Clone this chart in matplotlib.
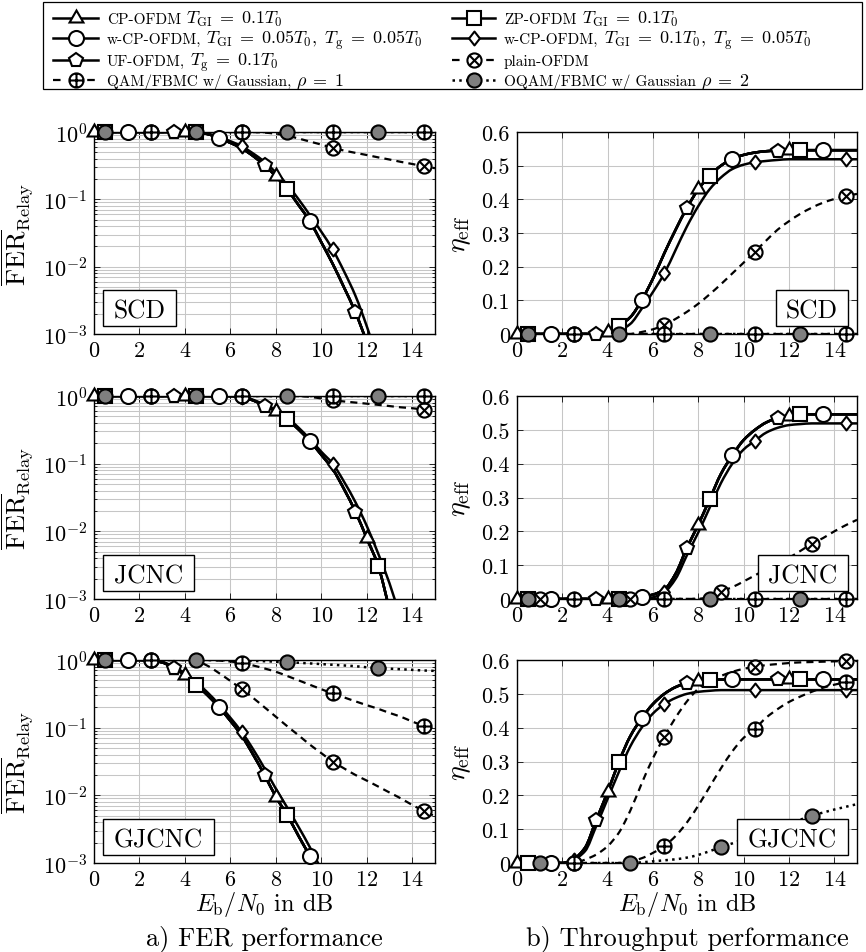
import numpy as np
import matplotlib
matplotlib.use("Agg")
import matplotlib.pyplot as plt
from matplotlib.path import Path
from matplotlib.patches import PathPatch, Rectangle
from matplotlib.lines import Line2D
from matplotlib.ticker import LogLocator, NullFormatter

plt.rcParams.update({
    "font.family": "serif",
    "font.serif": ["cmr10"],
    "mathtext.fontset": "cm",
    "axes.unicode_minus": False,
    "axes.formatter.use_mathtext": True,
})

nan = float("nan")

# ---------------------------------------------------------------- data
# Eb/N0 sample grid in dB
EBN0_DB = [0.0, 0.5, 1.0, 1.5, 2.0, 2.5, 3.0, 3.5, 4.0, 4.5,
           5.0, 5.5, 6.0, 6.5, 7.0, 7.5, 8.0, 8.5, 9.0, 9.5,
           10.0, 10.5, 11.0, 11.5, 12.0, 12.5, 13.0, 13.5, 14.0, 14.5, 15.0]

# "GUARD" = CP-OFDM, ZP-OFDM, w-CP-OFDM (T_GI=0.05T0) and UF-OFDM (coinciding curves)
# ---- SCD, relay frame error rate
FER_SCD_GUARD = [1, 1, 1, 1, 1, 1, 1, 1, 1, 0.99,
                 0.93, 0.81, 0.69, 0.57, 0.44, 0.32, 0.22, 0.14, 0.082, 0.047,
                 0.023, 0.011, 0.0049, 0.0021, 0.00075, 0.00022, nan, nan, nan, nan, nan]
FER_SCD_WCP01 = [1, 1, 1, 1, 1, 1, 1, 1, 1, 0.995,
                 0.94, 0.84, 0.73, 0.61, 0.48, 0.36, 0.25, 0.165, 0.1, 0.058,
                 0.033, 0.018, 0.0085, 0.0037, 0.0013, 0.0004, nan, nan, nan, nan, nan]
FER_SCD_PLAIN = [1, 1, 1, 1, 1, 1, 1, 1, 1, 1,
                 1, 1, 1, 1, 1, 0.98, 0.94, 0.88, 0.8, 0.72,
                 0.65, 0.58, 0.53, 0.49, 0.455, 0.42, 0.39, 0.36, 0.335, 0.31, 0.29]
FER_SCD_QAM = [1, 1, 1, 1, 1, 1, 1, 1, 1, 1,
               1, 1, 1, 1, 1, 1, 1, 1, 1, 1,
               1, 1, 1, 1, 1, 1, 1, 1, 1, 1, 1]
FER_SCD_OQAM = [1, 1, 1, 1, 1, 1, 1, 1, 1, 1,
                1, 1, 1, 1, 1, 1, 1, 1, 1, 1,
                1, 1, 1, 1, 1, 1, 1, 1, 1, 1, 1]

# ---- SCD, effective throughput
ETA_SCD_GUARD = [0, 0, 0, 0, 0, 0, 0, 0, 0.005, 0.025,
                 0.05, 0.1, 0.165, 0.24, 0.31, 0.375, 0.43, 0.47, 0.5, 0.52,
                 0.532, 0.539, 0.543, 0.545, 0.546, 0.546, 0.546, 0.546, 0.546, 0.546, 0.546]
ETA_SCD_WCP01 = [0, 0, 0, 0, 0, 0, 0, 0, 0, 0.01,
                 0.03, 0.075, 0.125, 0.18, 0.25, 0.32, 0.38, 0.43, 0.465, 0.49,
                 0.503, 0.51, 0.514, 0.517, 0.519, 0.519, 0.519, 0.519, 0.519, 0.519, 0.519]
ETA_SCD_PLAIN = [0, 0, 0, 0, 0, 0, 0, 0, 0, 0,
                 0, 0.006, 0.014, 0.027, 0.045, 0.066, 0.09, 0.118, 0.148, 0.18,
                 0.212, 0.245, 0.278, 0.31, 0.335, 0.357, 0.375, 0.39, 0.401, 0.41, 0.416]
ETA_SCD_QAM = [0, 0, 0, 0, 0, 0, 0, 0, 0, 0,
               0, 0, 0, 0, 0, 0, 0, 0, 0, 0,
               0, 0, 0, 0, 0, 0, 0, 0, 0, 0, 0]
ETA_SCD_OQAM = [0, 0, 0, 0, 0, 0, 0, 0, 0, 0,
                0, 0, 0, 0, 0, 0, 0, 0, 0, 0,
                0, 0, 0, 0, 0, 0, 0, 0, 0, 0, 0]

# ---- JCNC, relay frame error rate
FER_JCNC_GUARD = [1, 1, 1, 1, 1, 1, 1, 1, 1, 1,
                  1, 1, 1, 0.96, 0.86, 0.72, 0.6, 0.45, 0.32, 0.214,
                  0.135, 0.083, 0.042, 0.0195, 0.0079, 0.0031, 0.0007, nan, nan, nan, nan]
FER_JCNC_WCP01 = [1, 1, 1, 1, 1, 1, 1, 1, 1, 1,
                  1, 1, 1, 0.97, 0.88, 0.74, 0.62, 0.48, 0.34, 0.23,
                  0.15, 0.1, 0.054, 0.027, 0.012, 0.0047, 0.0017, 0.0005, nan, nan, nan]
FER_JCNC_PLAIN = [1, 1, 1, 1, 1, 1, 1, 1, 1, 1,
                  1, 1, 1, 1, 1, 1, 1, 1, 1, 0.97,
                  0.92, 0.87, 0.83, 0.8, 0.77, 0.74, 0.71, 0.68, 0.66, 0.63, 0.61]
FER_JCNC_QAM = [1, 1, 1, 1, 1, 1, 1, 1, 1, 1,
                1, 1, 1, 1, 1, 1, 1, 1, 1, 1,
                1, 1, 1, 1, 1, 1, 1, 1, 1, 1, 1]
FER_JCNC_OQAM = [1, 1, 1, 1, 1, 1, 1, 1, 1, 1,
                 1, 1, 1, 1, 1, 1, 1, 1, 1, 1,
                 1, 1, 1, 1, 1, 1, 1, 1, 1, 1, 1]

# ---- JCNC, effective throughput
ETA_JCNC_GUARD = [0, 0, 0, 0, 0, 0, 0, 0, 0, 0,
                  0, 0.006, 0.013, 0.028, 0.075, 0.152, 0.22, 0.295, 0.37, 0.425,
                  0.47, 0.5, 0.522, 0.535, 0.542, 0.546, 0.546, 0.546, 0.546, 0.546, 0.546]
ETA_JCNC_WCP01 = [0, 0, 0, 0, 0, 0, 0, 0, 0, 0,
                  0, 0, 0.005, 0.02, 0.06, 0.13, 0.197, 0.27, 0.343, 0.4,
                  0.442, 0.468, 0.492, 0.506, 0.514, 0.517, 0.519, 0.519, 0.519, 0.519, 0.519]
ETA_JCNC_PLAIN = [0, 0, 0, 0, 0, 0, 0, 0, 0, 0,
                  0, 0, 0, 0, 0, 0, 0, 0.008, 0.022, 0.035,
                  0.052, 0.07, 0.088, 0.105, 0.122, 0.142, 0.163, 0.18, 0.2, 0.218, 0.234]
ETA_JCNC_QAM = [0, 0, 0, 0, 0, 0, 0, 0, 0, 0,
                0, 0, 0, 0, 0, 0, 0, 0, 0, 0,
                0, 0, 0, 0, 0, 0, 0, 0, 0, 0, 0]
ETA_JCNC_OQAM = [0, 0, 0, 0, 0, 0, 0, 0, 0, 0,
                 0, 0, 0, 0, 0, 0, 0, 0, 0, 0,
                 0, 0, 0, 0, 0, 0, 0, 0, 0, 0, 0]

# ---- GJCNC, relay frame error rate
FER_GJCNC_GUARD = [1, 1, 1, 1, 1, 0.98, 0.92, 0.76, 0.6, 0.43,
                   0.3, 0.2, 0.126, 0.076, 0.04, 0.02, 0.0095, 0.0051, 0.0025, 0.00126,
                   0.00063, nan, nan, nan, nan, nan, nan, nan, nan, nan, nan]
FER_GJCNC_WCP01 = [1, 1, 1, 1, 1, 0.985, 0.94, 0.79, 0.64, 0.47,
                   0.33, 0.22, 0.14, 0.086, 0.048, 0.025, 0.0125, 0.0066, 0.0034, 0.0017,
                   0.0008, nan, nan, nan, nan, nan, nan, nan, nan, nan, nan]
FER_GJCNC_PLAIN = [1, 1, 1, 1, 1, 1, 1, 1, 1, 0.96,
                   0.82, 0.64, 0.49, 0.37, 0.275, 0.2, 0.145, 0.105, 0.077, 0.056,
                   0.042, 0.0316, 0.025, 0.02, 0.0165, 0.0135, 0.011, 0.009, 0.0072, 0.0059, 0.0049]
FER_GJCNC_QAM = [1, 1, 1, 1, 1, 1, 1, 1, 1, 1,
                 1, 0.98, 0.95, 0.9, 0.83, 0.75, 0.67, 0.58, 0.5, 0.43,
                 0.37, 0.32, 0.28, 0.245, 0.215, 0.19, 0.165, 0.145, 0.123, 0.107, 0.095]
FER_GJCNC_OQAM = [1, 1, 1, 1, 1, 1, 1, 1, 1, 1,
                  1, 0.995, 0.99, 0.98, 0.97, 0.96, 0.945, 0.93, 0.91, 0.89,
                  0.87, 0.85, 0.83, 0.81, 0.78, 0.76, 0.745, 0.73, 0.715, 0.7, 0.69]

# ---- GJCNC, effective throughput
ETA_GJCNC_GUARD = [0, 0, 0, 0, 0, 0.012, 0.045, 0.128, 0.21, 0.3,
                   0.375, 0.428, 0.47, 0.5, 0.52, 0.532, 0.538, 0.541, 0.542, 0.543,
                   0.543, 0.543, 0.543, 0.543, 0.543, 0.543, 0.543, 0.543, 0.543, 0.543, 0.543]
ETA_GJCNC_WCP01 = [0, 0, 0, 0, 0, 0.01, 0.035, 0.11, 0.19, 0.27,
                   0.345, 0.4, 0.442, 0.47, 0.488, 0.5, 0.506, 0.509, 0.511, 0.511,
                   0.511, 0.511, 0.511, 0.511, 0.511, 0.511, 0.511, 0.511, 0.511, 0.511, 0.511]
ETA_GJCNC_PLAIN = [0, 0, 0, 0, 0, 0, 0.01, 0.025, 0.05, 0.09,
                   0.155, 0.235, 0.31, 0.373, 0.43, 0.478, 0.515, 0.538, 0.553, 0.565,
                   0.574, 0.58, 0.585, 0.588, 0.591, 0.593, 0.594, 0.595, 0.596, 0.597, 0.597]
ETA_GJCNC_QAM = [0, 0, 0, 0, 0, 0, 0, 0, 0, 0,
                 0.005, 0.014, 0.03, 0.05, 0.08, 0.12, 0.17, 0.225, 0.28, 0.33,
                 0.37, 0.397, 0.43, 0.455, 0.476, 0.492, 0.506, 0.518, 0.527, 0.534, 0.54]
ETA_GJCNC_OQAM = [0, 0, 0, 0, 0, 0, 0, 0, 0, 0,
                  0, 0.002, 0.005, 0.008, 0.011, 0.016, 0.024, 0.035, 0.047, 0.058,
                  0.07, 0.082, 0.093, 0.105, 0.117, 0.128, 0.14, 0.149, 0.158, 0.166, 0.174]

# marker positions (dB) of each scheme
MARKS_CP = [0.0, 4.0, 8.0, 12.0]
MARKS_ZP = [0.5, 4.5, 8.5, 12.5]
MARKS_WCP05 = [1.5, 5.5, 9.5, 13.5]
MARKS_WCP01 = [2.5, 6.5, 10.5, 14.5]
MARKS_UF = [3.5, 7.5, 11.5]
MARKS_PLAIN = [2.5, 6.5, 10.5, 14.5]
MARKS_QAM = [2.5, 6.5, 10.5, 14.5]
MARKS_OQAM = [0.5, 4.5, 8.5, 12.5]
MARKS_SHIFTED = [1.0, 5.0, 9.0, 13.0]

SCENARIOS = ["SCD", "JCNC", "GJCNC"]
X_TICKS = [0, 2, 4, 6, 8, 10, 12, 14]
FER_TICKS = [1e-3, 1e-2, 1e-1, 1e0]
ETA_TICKS = [0, 0.1, 0.2, 0.3, 0.4, 0.5, 0.6]
ETA_TICK_LABELS = ["0", "0.1", "0.2", "0.3", "0.4", "0.5", "0.6"]

FER_DATA = {
    "SCD": dict(guard=FER_SCD_GUARD, wcp01=FER_SCD_WCP01, plain=FER_SCD_PLAIN,
                qam=FER_SCD_QAM, oqam=FER_SCD_OQAM),
    "JCNC": dict(guard=FER_JCNC_GUARD, wcp01=FER_JCNC_WCP01, plain=FER_JCNC_PLAIN,
                 qam=FER_JCNC_QAM, oqam=FER_JCNC_OQAM),
    "GJCNC": dict(guard=FER_GJCNC_GUARD, wcp01=FER_GJCNC_WCP01, plain=FER_GJCNC_PLAIN,
                  qam=FER_GJCNC_QAM, oqam=FER_GJCNC_OQAM),
}
ETA_DATA = {
    "SCD": dict(guard=ETA_SCD_GUARD, wcp01=ETA_SCD_WCP01, plain=ETA_SCD_PLAIN,
                qam=ETA_SCD_QAM, oqam=ETA_SCD_OQAM),
    "JCNC": dict(guard=ETA_JCNC_GUARD, wcp01=ETA_JCNC_WCP01, plain=ETA_JCNC_PLAIN,
                 qam=ETA_JCNC_QAM, oqam=ETA_JCNC_OQAM),
    "GJCNC": dict(guard=ETA_GJCNC_GUARD, wcp01=ETA_GJCNC_WCP01, plain=ETA_GJCNC_PLAIN,
                  qam=ETA_GJCNC_QAM, oqam=ETA_GJCNC_OQAM),
}

# ---------------------------------------------------------------- styles
_circ = Path.unit_circle()
_s = np.sqrt(0.5)
OTIMES = Path.make_compound_path(_circ, Path([(-_s, -_s), (_s, _s)]), Path([(-_s, _s), (_s, -_s)]))
OPLUS = Path.make_compound_path(_circ, Path([(0, -1), (0, 1)]), Path([(-1, 0), (1, 0)]))
DIAMOND = Path([(0, 1), (0.78, 0), (0, -1), (-0.78, 0), (0, 1)],
               [Path.MOVETO, Path.LINETO, Path.LINETO, Path.LINETO, Path.CLOSEPOLY])

SOLID = dict(lw=1.8, ls="-")
DASHED = dict(lw=1.6, ls=(0, (3.2, 2.3)))
DOTTED = dict(lw=1.8, ls=(0, (1.0, 1.7)))

# drawing order: key, data column, line style, marker, size, face, marks
SCHEMES = [
    ("cp", "guard", SOLID, (3, 0, 0), 11.5, "white", MARKS_CP),
    ("zp", "guard", SOLID, "s", 10.3, "white", MARKS_ZP),
    ("wcp05", "guard", SOLID, "o", 10.8, "white", MARKS_WCP05),
    ("wcp01", "wcp01", SOLID, DIAMOND, 10.0, "white", MARKS_WCP01),
    ("uf", "guard", SOLID, "p", 10.3, "white", MARKS_UF),
    ("plain", "plain", DASHED, OTIMES, 10.2, "white", MARKS_PLAIN),
    ("qam", "qam", DASHED, OPLUS, 10.2, "white", MARKS_QAM),
    ("oqam", "oqam", DOTTED, "o", 10.2, "#7f7f7f", MARKS_OQAM),
]
MEW = 1.5

W, H = 866, 953
COL_PX = [(94, 435), (517, 857)]
ROW_PX = [(133, 335), (397, 600), (661, 864)]
TAG_W = {"SCD": (73, 72), "JCNC": (91, 90), "GJCNC": (111, 111)}
GRID_C = "#c6c6c6"


def smooth_path(xs, ys, log):
    """Monotone cubic (Bezier) path through the samples, built in scale space."""
    x = np.asarray(xs, float)
    y = np.asarray(ys, float)
    keep = np.isfinite(y)
    x, y = x[keep], y[keep]
    v = np.log10(y) if log else y.copy()
    h = np.diff(x)
    d = np.diff(v) / h
    m = np.zeros_like(v)
    m[0], m[-1] = d[0], d[-1]
    for k in range(1, len(v) - 1):
        if d[k - 1] * d[k] > 0:
            w1 = 2 * h[k] + h[k - 1]
            w2 = h[k] + 2 * h[k - 1]
            m[k] = (w1 + w2) / (w1 / d[k - 1] + w2 / d[k])
    verts = [(x[0], v[0])]
    codes = [Path.MOVETO]
    for k in range(len(h)):
        t = h[k] / 3.0
        verts += [(x[k] + t, v[k] + m[k] * t),
                  (x[k + 1] - t, v[k + 1] - m[k + 1] * t),
                  (x[k + 1], v[k + 1])]
        codes += [Path.CURVE4] * 3
    verts = np.array(verts)
    if log:
        verts[:, 1] = 10.0 ** verts[:, 1]
    return Path(verts, codes)


def px_axes(col, row):
    x0, x1 = COL_PX[col]
    y0, y1 = ROW_PX[row]
    return fig.add_axes([x0 / W, 1 - y1 / H, (x1 - x0) / W, (y1 - y0) / H])


def draw_panel(ax, data, log, marks_override):
    lo, hi = ax.get_ylim()
    for key, col, line, marker, ms, fc, marks in SCHEMES:
        ys = data[col]
        ax.add_patch(PathPatch(smooth_path(EBN0_DB, ys, log), fill=False, ec="black",
                               lw=line["lw"], ls=line["ls"], capstyle="butt",
                               joinstyle="round", zorder=2))
        mk = marks_override.get(key, marks)
        pts = [(m, ys[EBN0_DB.index(m)]) for m in mk]
        pts = [(a, b) for a, b in pts if np.isfinite(b) and lo * (1 - 1e-9) <= b <= hi * (1 + 1e-9)]
        if pts:
            ax.plot([p[0] for p in pts], [p[1] for p in pts], ls="none", marker=marker,
                    ms=ms, mfc=fc, mec="black", mew=MEW, clip_on=False, zorder=4)


def style_axes(ax):
    ax.set_xlim(0, 15)
    ax.set_xticks(X_TICKS)
    ax.set_axisbelow(True)
    ax.tick_params(which="both", direction="in", top=True, right=True,
                   labelsize=16, width=0.7, color="#222222")
    ax.tick_params(which="major", length=4.5, pad=5)
    ax.tick_params(which="minor", length=2.5)
    for sp in ax.spines.values():
        sp.set_linewidth(1.0)


def add_tag(ax, col, row, text):
    x0, x1 = COL_PX[col]
    y0, y1 = ROW_PX[row]
    bw = TAG_W[text][col]
    bh = 36
    bottom = y1 - 8
    left = x0 + 9 if col == 0 else x1 - 9 - bw
    aw, ah = x1 - x0, y1 - y0
    ax.add_patch(Rectangle(((left - x0) / aw, (y1 - bottom) / ah), bw / aw, bh / ah,
                           transform=ax.transAxes, fc="white", ec="black", lw=1.0,
                           zorder=3, clip_on=False))
    ax.text((left + bw / 2 - x0) / aw, (y1 - bottom + 8.5) / ah, text, transform=ax.transAxes,
            ha="center", va="baseline", fontsize=18.4, zorder=3.5)


fig = plt.figure(figsize=(W / 100, H / 100), dpi=100)

for row, sc in enumerate(SCENARIOS):
    # FER column
    ax = px_axes(0, row)
    ax.set_yscale("log")
    ax.set_ylim(1e-3, 1)
    style_axes(ax)
    ax.set_yticks(FER_TICKS)
    ax.yaxis.set_minor_locator(LogLocator(base=10, subs=np.arange(2, 10)))
    ax.yaxis.set_minor_formatter(NullFormatter())
    ax.grid(which="major", color=GRID_C, lw=0.75)
    ax.grid(which="minor", axis="y", color=GRID_C, lw=0.75)
    draw_panel(ax, FER_DATA[sc], True, {})
    add_tag(ax, 0, row, sc)
    ax.set_ylabel(r"$\overline{\mathrm{FER}}_{\mathrm{Relay}}$", fontsize=19)
    ax.yaxis.set_label_coords(-0.172, 0.5)

    # throughput column
    ax = px_axes(1, row)
    ax.set_ylim(0, 0.6)
    style_axes(ax)
    ax.set_yticks(ETA_TICKS, ETA_TICK_LABELS)
    ax.grid(which="major", color=GRID_C, lw=0.75)
    override = {}
    if sc == "JCNC":
        override["plain"] = MARKS_SHIFTED
    if sc == "GJCNC":
        override["oqam"] = MARKS_SHIFTED
    draw_panel(ax, ETA_DATA[sc], False, override)
    add_tag(ax, 1, row, sc)
    ax.set_ylabel(r"$\eta_{\mathrm{eff}}$", fontsize=20)
    ax.yaxis.set_label_coords(-0.13, 0.5)

# axis titles and sub-captions
for cx in (264, 687):
    fig.text(cx / W, 1 - 911 / H, r"$E_{\mathrm{b}}/N_0$ in dB", ha="center", va="baseline",
             fontsize=17.5)
fig.text(264 / W, 1 - 945 / H, "a) FER performance", ha="center", va="baseline", fontsize=19)
fig.text(687 / W, 1 - 945 / H, "b) Throughput performance", ha="center", va="baseline",
         fontsize=19)

# ---------------------------------------------------------------- legend
LEG_BOX = (43, 3, 862, 90)
LEG_ROW_Y = [18.5, 39.2, 60.6, 81]
LEG_HANDLE_X = [(53, 98), (452, 495)]
LEG_TEXT_X = [107, 504]
TXT, MATH = 11.0, 13.0
LEG_ENTRIES = [
    (0, 0, "cp", [("CP-OFDM", TXT), (r"$T_{\mathrm{GI}}\;=\;0.1T_0$", MATH)]),
    (0, 1, "wcp05", [("w-CP-OFDM,", TXT),
                     (r"$T_{\mathrm{GI}}\;=\;0.05T_0,\ T_{\mathrm{g}}\;=\;0.05T_0$", MATH)]),
    (0, 2, "uf", [("UF-OFDM,", TXT), (r"$T_{\mathrm{g}}\;=\;0.1T_0$", MATH)]),
    (0, 3, "qam", [("QAM/FBMC w/ Gaussian,", TXT), (r"$\rho\;=\;1$", MATH)]),
    (1, 0, "zp", [("ZP-OFDM", TXT), (r"$T_{\mathrm{GI}}\;=\;0.1T_0$", MATH)]),
    (1, 1, "wcp01", [("w-CP-OFDM,", TXT),
                     (r"$T_{\mathrm{GI}}\;=\;0.1T_0,\ T_{\mathrm{g}}\;=\;0.05T_0$", MATH)]),
    (1, 2, "plain", [("plain-OFDM", TXT)]),
    (1, 3, "oqam", [("OQAM/FBMC w/ Gaussian", TXT), (r"$\rho\;=\;2$", MATH)]),
]

fig.add_artist(Rectangle((LEG_BOX[0] / W, 1 - LEG_BOX[3] / H), (LEG_BOX[2] - LEG_BOX[0]) / W,
                         (LEG_BOX[3] - LEG_BOX[1]) / H, transform=fig.transFigure,
                         fc="white", ec="black", lw=0.9, zorder=1))
renderer = fig.canvas.get_renderer()
style_of = {s[0]: s for s in SCHEMES}
for col, row, key, pieces in LEG_ENTRIES:
    _, _, line, marker, ms, fc, _ = style_of[key]
    yc = 1 - LEG_ROW_Y[row] / H
    hx0, hx1 = LEG_HANDLE_X[col]
    ls = line["ls"]
    if line is DASHED:
        ls = (0, (3.4, 12.0))
    fig.add_artist(Line2D([hx0 / W, hx1 / W], [yc, yc], transform=fig.transFigure,
                          color="black", lw=line["lw"], ls=ls, dash_capstyle="butt", zorder=2))
    fig.add_artist(Line2D([(hx0 + hx1) / 2 / W], [yc], transform=fig.transFigure, ls="none",
                          marker=marker, ms=ms, mfc=fc, mec="black", mew=MEW, zorder=3))
    x = LEG_TEXT_X[col]
    base = 1 - (LEG_ROW_Y[row] + 5) / H
    for txt, size in pieces:
        t = fig.text(x / W, base, txt, fontsize=size, ha="left", va="baseline", zorder=3)
        x += t.get_window_extent(renderer).width + 5

fig.savefig("out.png", dpi=100)
